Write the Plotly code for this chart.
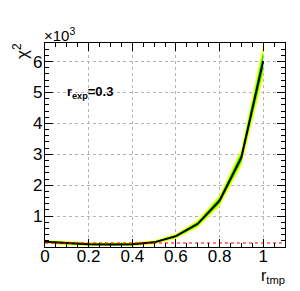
import plotly.graph_objects as go

# data (chi2 in units of 10^3)
r_tmp = [0.0, 0.1, 0.2, 0.3, 0.4, 0.5, 0.6, 0.7, 0.8, 0.9, 1.0]
chi2 = [0.17, 0.12, 0.09, 0.08, 0.09, 0.15, 0.35, 0.75, 1.50, 2.90, 6.02]
err_1s = [0.03, 0.03, 0.03, 0.03, 0.03, 0.03, 0.04, 0.06, 0.09, 0.15, 0.30]
err_2s = [0.06, 0.06, 0.06, 0.06, 0.06, 0.06, 0.08, 0.12, 0.18, 0.28, 0.55]
ref_level = 0.13
x_range = [0.0, 1.1]
y_range = [0.0, 6.6]
x_ticks = [0, 0.2, 0.4, 0.6, 0.8, 1.0]
x_ticklabels = ["0", "0.2", "0.4", "0.6", "0.8", "1"]
y_ticks = [1, 2, 3, 4, 5, 6]
y_ticklabels = ["1", "2", "3", "4", "5", "6"]

def band(err):
    up = [c + e for c, e in zip(chi2, err)]
    lo = [c - e for c, e in zip(chi2, err)]
    return r_tmp + r_tmp[::-1], up + lo[::-1]

fig = go.Figure()
bx, by = band(err_2s)
fig.add_trace(go.Scatter(x=bx, y=by, fill="toself", fillcolor="#ffff00",
                         line=dict(width=0), mode="lines", hoverinfo="skip"))
bx, by = band(err_1s)
fig.add_trace(go.Scatter(x=bx, y=by, fill="toself", fillcolor="#00ff00",
                         line=dict(width=0), mode="lines", hoverinfo="skip"))
fig.add_trace(go.Scatter(x=r_tmp, y=chi2, mode="lines",
                         line=dict(color="black", width=2)))
fig.add_trace(go.Scatter(x=x_range, y=[ref_level, ref_level], mode="lines",
                         line=dict(color="red", width=1.2, dash="dot")))

font = "Liberation Sans, Arial"
axis_common = dict(
    showline=True, linecolor="black", linewidth=1.3, mirror="allticks",
    ticks="inside", ticklen=8, tickcolor="black", tickwidth=1,
    showgrid=True, gridcolor="#b4b4b4", griddash="dot", gridwidth=1,
    zeroline=False,
    tickfont=dict(family=font, size=17, color="black"),
)
fig.update_xaxes(range=x_range, tickvals=x_ticks, ticktext=x_ticklabels,
                 ticklabelstandoff=-7,
                 minor=dict(ticks="inside", ticklen=4, dtick=0.05, tickcolor="black", showgrid=False),
                 **axis_common)
fig.update_yaxes(range=y_range, tickvals=y_ticks, ticktext=y_ticklabels,
                 ticklabelstandoff=-2,
                 minor=dict(ticks="inside", ticklen=4, dtick=0.2, tickcolor="black", showgrid=False),
                 **axis_common)

fig.update_layout(
    width=300, height=291,
    margin=dict(l=37, r=23, t=35, b=52),
    paper_bgcolor="white", plot_bgcolor="white",
    showlegend=False,
    annotations=[
        dict(text="×10<sup>3</sup>", xref="paper", yref="paper", x=0, y=1,
             xanchor="left", yanchor="bottom", showarrow=False, yshift=-3, xshift=-3,
             font=dict(family=font, size=15, color="black")),
        dict(text="χ<sup>2</sup>", xref="paper", yref="paper", x=0, y=1,
             xanchor="left", yanchor="top", showarrow=False, textangle=-90,
             xshift=-37, yshift=2,
             font=dict(family=font, size=17, color="black")),
        dict(text="r<sub>tmp</sub>", xref="paper", yref="paper", x=1, y=0,
             xanchor="right", yanchor="middle", showarrow=False, yshift=-29, xshift=2,
             font=dict(family=font, size=16, color="black")),
        dict(text="<b>r<sub>exp</sub>=0.3</b>", xref="x", yref="y", x=0.09, y=5.0,
             xanchor="left", yanchor="middle", showarrow=False,
             font=dict(family=font, size=13, color="black")),
    ],
)
fig.write_html("out.html")
